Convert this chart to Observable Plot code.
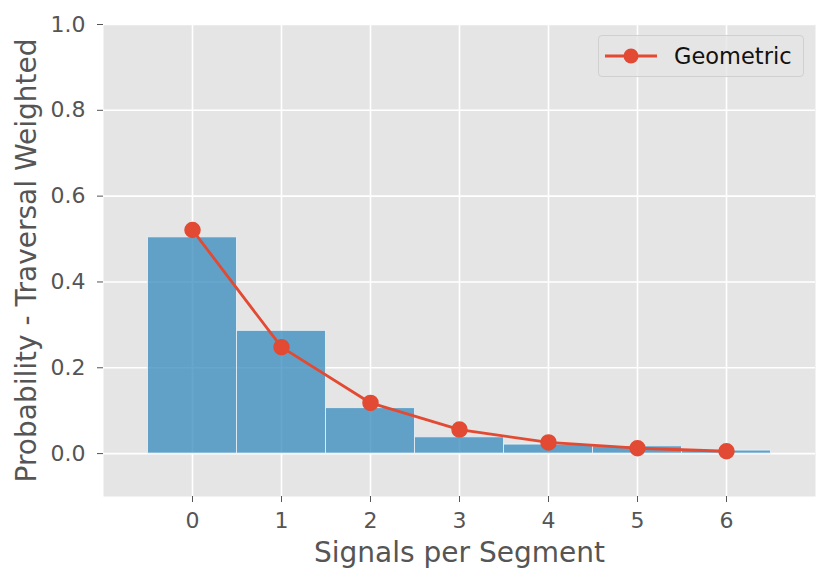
<!DOCTYPE html>
<html>
<head>
<meta charset="utf-8">
<script src="https://cdn.jsdelivr.net/npm/d3@7"></script>
<script src="https://cdn.jsdelivr.net/npm/@observablehq/plot@0.6"></script>
<style>
  html, body { margin: 0; padding: 0; background: #fff; }
  #wrap { position: relative; width: 831px; height: 585px; font-family: "DejaVu Sans", sans-serif; }
  #wrap > svg { display: block; }
  #legend { position: absolute; left: 598px; top: 35px; width: 206px; height: 42px; box-sizing: border-box;
    border: 1px solid #d0d0d0; border-radius: 4px; background: rgba(229,229,229,0.8);
    display: flex; align-items: center; font-size: 22.5px; color: #111; }
  #legend svg { margin-left: 6px; margin-right: 17px; }
</style>
</head>
<body>
<div id="wrap"><div id="legend"></div></div>
<script>
const signals = [0, 1, 2, 3, 4, 5, 6];
const observed = [0.504, 0.286, 0.106, 0.038, 0.021, 0.017, 0.007];
const geometric = [0.521, 0.248, 0.118, 0.056, 0.026, 0.0125, 0.0055];
const xTicks = [0, 1, 2, 3, 4, 5, 6];
const yTicks = [0.0, 0.2, 0.4, 0.6, 0.8, 1.0];
const seriesName = "Geometric";

const bars = signals.map((s, i) => ({x1: s - 0.5, x2: s + 0.5, y: observed[i]}));
const pts = signals.map((s, i) => ({x: s, y: geometric[i]}));

const red = "#E24A33";
const chart = Plot.plot({
  width: 831,
  height: 585,
  marginLeft: 103,
  marginRight: 16,
  marginTop: 24,
  marginBottom: 89,
  style: {fontFamily: "DejaVu Sans, sans-serif", fontSize: "22px", color: "#555", background: "white"},
  x: {domain: [-1, 7], ticks: xTicks, tickFormat: d => String(d), label: null},
  y: {domain: [-0.1, 1.0], ticks: yTicks, tickFormat: d => d.toFixed(1), label: null},
  marks: [
    Plot.frame({fill: "#E5E5E5", stroke: null}),
    Plot.gridX(xTicks, {stroke: "white", strokeOpacity: 1, strokeWidth: 1.6}),
    Plot.gridY(yTicks, {stroke: "white", strokeOpacity: 1, strokeWidth: 1.6}),
    Plot.rect(bars, {x1: "x1", x2: "x2", y1: 0, y2: "y", fill: "#348ABD", fillOpacity: 0.75, stroke: "#eef3f7", strokeWidth: 1, strokeOpacity: 0.8, inset: 0}),
    Plot.line(pts, {x: "x", y: "y", stroke: red, strokeWidth: 2.8}),
    Plot.dot(pts, {x: "x", y: "y", r: 7.5, fill: red, stroke: red}),
    Plot.axisX(xTicks, {tickSize: 6, tickPadding: 10, stroke: "#555", fill: "#555", fontSize: 22, label: null}),
    Plot.axisY(yTicks, {tickSize: 6, tickPadding: 12, stroke: "#555", fill: "#555", fontSize: 22, tickFormat: d => d.toFixed(1), label: null}),
    Plot.text(["Signals per Segment"], {frameAnchor: "bottom", dy: 65, fontSize: 28, fill: "#555", textAnchor: "middle"}),
    Plot.text(["Probability - Traversal Weighted"], {frameAnchor: "left", dx: -76, rotate: -90, fontSize: 28, fill: "#555", textAnchor: "middle"})
  ]
});
document.getElementById("wrap").prepend(chart);

const leg = document.getElementById("legend");
leg.innerHTML = `<svg width="52" height="20"><line x1="0" y1="10" x2="52" y2="10" stroke="${red}" stroke-width="2.8"/><circle cx="26" cy="10" r="7.5" fill="${red}"/></svg><span>${seriesName}</span>`;
</script>
</body>
</html>
